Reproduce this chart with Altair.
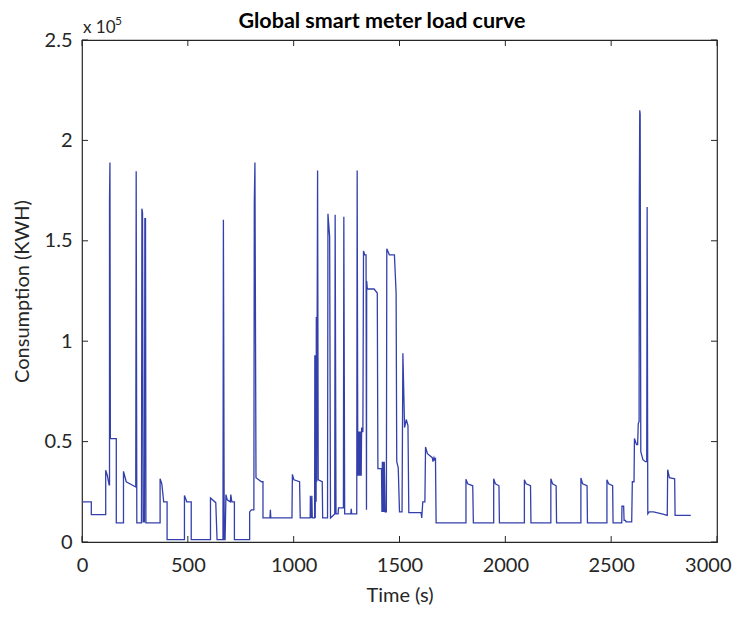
import altair as alt
import pandas as pd

# Time (s) and consumption (x 10^5 KWH) vertices of the load curve
T = [0, 44, 44, 112, 112, 120, 128, 130, 130, 132, 134, 162, 162, 196, 196, 209, 254, 256, 259,
     281, 283, 286, 289, 295, 297, 300, 302, 369, 369, 377, 386, 402, 402, 484, 484, 495, 516, 516,
     607, 607, 632, 638, 666, 668, 672, 676, 680, 686, 701, 703, 708, 720, 720, 792, 792, 800, 812,
     814, 817, 822, 848, 855, 855, 888, 890, 892, 992, 994, 1001, 1028, 1031, 1078, 1079, 1082,
     1086, 1088, 1099, 1100, 1102, 1104, 1106, 1107, 1109, 1111, 1113, 1116, 1135, 1137, 1160,
     1162, 1170, 1174, 1194, 1196, 1200, 1210, 1212, 1235, 1237, 1241, 1270, 1272, 1274, 1298,
     1300, 1303, 1305, 1307, 1309, 1311, 1313, 1315, 1317, 1319, 1321, 1325, 1327, 1330, 1336,
     1342, 1344, 1345, 1348, 1380, 1395, 1398, 1415, 1417, 1419, 1421, 1424, 1426, 1428, 1432,
     1438, 1440, 1452, 1476, 1484, 1487, 1494, 1500, 1512, 1516, 1524, 1532, 1540, 1544, 1602,
     1605, 1610, 1620, 1623, 1632, 1655, 1658, 1663, 1666, 1670, 1673,
     1814, 1814, 1822, 1846, 1849, 1945, 1945, 1953, 1970, 1972, 2090, 2090, 2098, 2119, 2121,
     2215, 2215, 2223, 2240, 2242, 2357, 2357, 2365, 2386, 2388, 2480, 2480, 2488, 2507, 2509,
     2550, 2551, 2559, 2561, 2568, 2570, 2597, 2600, 2608, 2610, 2620, 2625, 2628, 2632, 2633,
     2635, 2637, 2640, 2650, 2662, 2668, 2670, 2673, 2680, 2700, 2740, 2765, 2767, 2775, 2800,
     2802, 2876]
V = [0.20, 0.20, 0.136, 0.136, 0.357, 0.33, 0.285, 0.285, 1.70, 1.89, 0.515, 0.515, 0.095, 0.095,
     0.352, 0.30, 0.274, 1.846, 0.095, 0.095, 1.66, 1.64, 0.10, 0.10, 1.61, 1.61, 0.095, 0.095,
     0.315, 0.29, 0.20, 0.20, 0.012, 0.012, 0.232, 0.20, 0.20, 0.012, 0.012, 0.219, 0.196, 0.012,
     0.012, 1.605, 0.012, 0.012, 0.236, 0.21, 0.20, 0.236, 0.20, 0.20, 0.012, 0.012, 0.15, 0.16,
     0.16, 1.69, 1.89, 0.32, 0.30, 0.30, 0.12, 0.12, 0.16, 0.12, 0.12, 0.337, 0.31, 0.30, 0.12,
     0.12, 0.23, 0.12, 0.23, 0.12, 0.12, 0.93, 0.12, 0.93, 0.20, 1.12, 0.30, 1.12, 1.85, 0.31,
     0.30, 0.12, 0.12, 1.635, 1.52, 0.12, 0.14, 1.63, 0.14, 0.14, 0.17, 0.17, 1.62, 0.14, 0.14,
     0.165, 0.14, 0.14, 1.85, 0.33, 0.55, 0.33, 0.55, 0.33, 0.55, 0.33, 0.55, 0.33, 0.57, 0.55,
     0.55, 1.45, 1.43, 1.43, 0.16, 1.30, 1.26, 1.26, 1.24, 0.365, 0.365, 0.15, 0.40, 0.15, 0.40,
     0.15, 0.40, 0.15, 0.15, 1.46, 1.43, 1.43, 1.24, 0.40, 0.37, 0.15, 0.15, 0.94, 0.57, 0.61,
     0.58, 0.146, 0.146, 0.12, 0.20, 0.20, 0.473, 0.44, 0.42, 0.40, 0.42, 0.41, 0.415, 0.095,
     0.095, 0.312, 0.29, 0.28, 0.095, 0.095, 0.315, 0.29, 0.28, 0.095, 0.095, 0.31, 0.29, 0.28,
     0.095, 0.095, 0.315, 0.29, 0.28, 0.095, 0.095, 0.319, 0.29, 0.28, 0.095, 0.095, 0.31, 0.29,
     0.28, 0.095, 0.095, 0.178, 0.178, 0.108, 0.108, 0.10, 0.10, 0.30, 0.30, 0.515, 0.485, 0.485,
     0.59, 0.60, 1.71, 2.15, 2.13, 0.45, 0.41, 0.40, 0.40, 1.668, 0.14, 0.15, 0.15, 0.14, 0.133,
     0.36, 0.32, 0.315, 0.133, 0.133]

X_TICKS = [0, 500, 1000, 1500, 2000, 2500, 3000]
Y_TICKS = [0, 0.5, 1, 1.5, 2, 2.5]

TITLE = "Global smart meter load curve"
X_TITLE = "Time (s)"
Y_TITLE = "Consumption (KWH)"

W, H = 635, 502
FONT = "Lato"
AX = "#262626"
BLUE = "#3340AC"
TICK = 6

df = pd.DataFrame({"i": range(len(T)), "t": T, "v": V})
xs = alt.Scale(domain=[0, 3000], nice=False, zero=False)
ys = alt.Scale(domain=[0, 2.5], nice=False)

x_axis = alt.Axis(
    values=X_TICKS, ticks=False, domain=False, grid=False, title=X_TITLE,
    format="d", labelFont=FONT, titleFont=FONT, labelFontSize=20, titleFontSize=20,
    labelColor=AX, titleColor=AX, titleFontWeight="normal",
    labelPadding=13, titlePadding=10, labelFlush=False,
    labelAlign=alt.condition("datum.value == 3000", alt.value("right"), alt.value("center")),
    labelOffset=alt.condition("datum.value == 3000", alt.value(14), alt.value(0)))
y_axis = alt.Axis(
    values=Y_TICKS, ticks=False, domain=False, grid=False, title=Y_TITLE,
    labelExpr="'' + datum.value", labelFont=FONT, titleFont=FONT,
    labelFontSize=20, titleFontSize=20, labelColor=AX, titleColor=AX,
    titleFontWeight="normal", labelPadding=10, titlePadding=12, labelFlush=False)

line = alt.Chart(df).mark_line(color=BLUE, strokeWidth=1.3).encode(
    x=alt.X("t:Q", scale=xs, axis=x_axis),
    y=alt.Y("v:Q", scale=ys, axis=y_axis),
    order="i:Q",
)

xt = pd.DataFrame({"t": X_TICKS})
yt = pd.DataFrame({"v": Y_TICKS})
xb = alt.Chart(xt).mark_rule(color=AX, strokeWidth=1).encode(
    x=alt.X("t:Q", scale=xs, axis=x_axis), y=alt.value(H), y2=alt.value(H - TICK))
xtp = alt.Chart(xt).mark_rule(color=AX, strokeWidth=1).encode(
    x=alt.X("t:Q", scale=xs, axis=x_axis), y=alt.value(0), y2=alt.value(TICK))
yl = alt.Chart(yt).mark_rule(color=AX, strokeWidth=1).encode(
    y=alt.Y("v:Q", scale=ys, axis=y_axis), x=alt.value(0), x2=alt.value(TICK))
yr = alt.Chart(yt).mark_rule(color=AX, strokeWidth=1).encode(
    y=alt.Y("v:Q", scale=ys, axis=y_axis), x=alt.value(W), x2=alt.value(W - TICK))

txt = pd.DataFrame({"s": [TITLE], "m": ["x 10"], "e": ["5"]})
title = alt.Chart(txt).mark_text(font=FONT, fontSize=21.5, fontWeight="bold", color="#000000",
                                 align="center", baseline="alphabetic").encode(
    x=alt.value(300), y=alt.value(-12), text="s:N")
mult = alt.Chart(txt).mark_text(font=FONT, fontSize=17, color=AX, align="left",
                                baseline="alphabetic").encode(
    x=alt.value(1), y=alt.value(-7), text="m:N")
expo = alt.Chart(txt).mark_text(font=FONT, fontSize=12, color=AX, align="left",
                                baseline="alphabetic").encode(
    x=alt.value(33), y=alt.value(-15), text="e:N")

chart = alt.layer(line, xb, xtp, yl, yr, title, mult, expo).properties(
    width=W, height=H,
    background="white",
    autosize=alt.AutoSizeParams(type="none"),
    padding={"left": 74, "top": 32, "right": 15, "bottom": 68},
).configure_view(stroke=AX, strokeWidth=1.2)

chart.save("out.html", embed_options={"renderer": "svg", "actions": False})
